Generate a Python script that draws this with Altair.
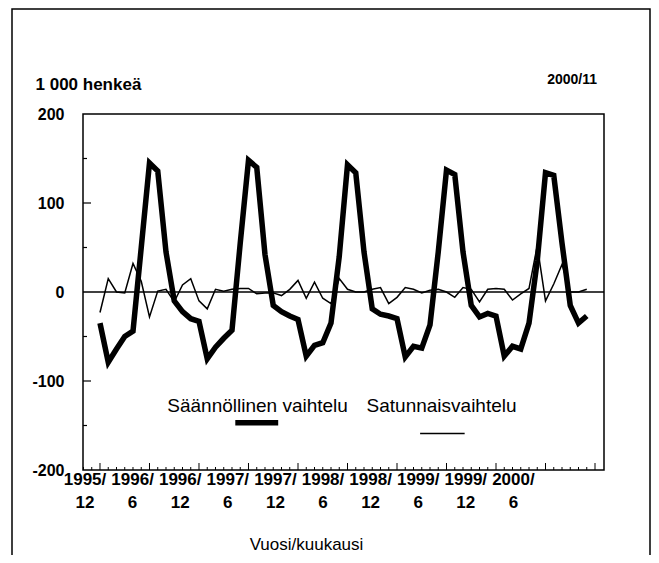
import altair as alt
import pandas as pd

# ---------------- data ----------------
start_month = "1995-12-01"
seasonal = [-35, -79, -64, -50, -44, 50, 145, 136, 45, -10, -22, -30,
            -33, -75, -62, -52, -43, 55, 148, 140, 42, -15, -22, -27,
            -31, -72, -60, -57, -35, 40, 143, 134, 45, -19, -25, -27,
            -30, -73, -61, -63, -37, 45, 137, 132, 45, -15, -28, -24,
            -27, -72, -61, -64, -35, 35, 134, 131, 55, -15, -35, -27]
irregular = [-23, 15, 0, -1, 32, 12, -28, 1, 3, -11, 8, 15,
             -10, -19, 3, 1, 3, 4, 4, -2, -1, -1, -4, 3,
             13, -7, 11, -7, -13, 15, 3, 0, 0, 3, 5, -13,
             -6, 5, 3, -1, 2, 3, 0, -6, 5, 3, -11, 3,
             4, 3, -9, -2, 4, 52, -10, 9, 31, 0, 0, 3]
label_years = ["1995/", "1996/", "1996/", "1997/", "1997/", "1998/",
               "1998/", "1999/", "1999/", "2000/"]
label_months = ["12", "6", "12", "6", "12", "6", "12", "6", "12", "6"]
y_tick_labels = [-200, -100, 0, 100, 200]
series_names = ["Säännöllinen vaihtelu", "Satunnaisvaihtelu"]
unit_text = "1 000 henkeä"
date_text = "2000/11"
x_title = "Vuosi/kuukausi"

# ---------------- layout ----------------
W, H = 521, 356
X_DOM = [-2.06, 61.09]
Y_DOM = [-200, 200]
PX_X = W / (X_DOM[1] - X_DOM[0])
PX_Y = H / (Y_DOM[1] - Y_DOM[0])
# the printed time labels are evenly spread a little tighter than the months
LABEL_FIRST_PX, LABEL_STEP_PX = 2.0, 47.6

SANS = "Liberation Sans, Arial, sans-serif"

months = pd.date_range(start_month, periods=len(seasonal), freq="MS").strftime("%Y/%m").tolist()
df = pd.DataFrame({"i": range(len(seasonal)), "kk": months,
                   "seasonal": seasonal, "irregular": irregular})

xs = alt.Scale(domain=X_DOM, nice=False, zero=False)
ys = alt.Scale(domain=Y_DOM, nice=False, zero=False)

x_axis = alt.Axis(labels=False, ticks=False, domain=False, grid=False,
                  title=x_title, titleFont=SANS, titleFontSize=17,
                  titleFontWeight="normal", titleColor="black",
                  titleX=223, titleY=74, titleAlign="center", titleBaseline="middle")
y_axis = alt.Axis(values=y_tick_labels, ticks=False, domain=False, grid=False,
                  labelExpr="'' + datum.value",
                  labelFont=SANS, labelFontSize=16, labelFontWeight="bold",
                  labelColor="black", labelPadding=19,
                  title=unit_text, titleAngle=0, titleX=-48, titleY=-30,
                  titleAlign="left", titleBaseline="middle", titleFont=SANS,
                  titleFontSize=17, titleFontWeight="bold", titleColor="black")


def X(field):
    return alt.X(field, type="quantitative", scale=xs, axis=x_axis)


def Y(field):
    return alt.Y(field, type="quantitative", scale=ys, axis=y_axis)


base = alt.Chart(df)

thick = base.mark_line(color="black", strokeWidth=5.5, strokeJoin="miter",
                       strokeCap="butt").encode(x=X("i"), y=Y("seasonal"))
thin = base.mark_line(color="black", strokeWidth=1.5).encode(x=X("i"), y=Y("irregular"))

zero = alt.Chart(pd.DataFrame({"v": [0]})).mark_rule(color="black", strokeWidth=1.3).encode(
    y=Y("v"))

# inward tick marks (bottom: monthly, every 6th longer; left: every 50)
xt = pd.DataFrame({"i": list(range(-2, 61))})
xt["y0"] = Y_DOM[0]
xt["y1"] = [Y_DOM[0] + (7 if v % 6 == 0 else 3) / PX_Y for v in xt["i"]]
xticks = alt.Chart(xt).mark_rule(color="black", strokeWidth=1).encode(
    x=X("i"), y=Y("y0"), y2="y1:Q")

yt = pd.DataFrame({"v": [-150, -100, -50, 50, 100, 150]})
yt["x0"] = X_DOM[0]
yt["x1"] = [X_DOM[0] + (8 if v % 100 == 0 else 4) / PX_X for v in yt["v"]]
yticks = alt.Chart(yt).mark_rule(color="black", strokeWidth=1.2).encode(
    y=Y("v"), x=X("x0"), x2="x1:Q")

# in-plot legend: names above short line samples
leg = pd.DataFrame({"name": series_names, "xc": [19.1, 41.4], "yc": [-128, -128]})
leg_text = alt.Chart(leg).mark_text(font=SANS, fontSize=19, color="black",
                                    baseline="middle", align="center").encode(
    x=X("xc"), y=Y("yc"), text="name:N")
samples = pd.DataFrame({"x0": [16.4, 38.8], "x1": [21.6, 44.2], "y": [-147, -159],
                        "w": [5.5, 1.5], "name": series_names})
leg_lines = alt.Chart(samples).mark_rule(color="black").encode(
    x=X("x0"), x2="x1:Q", y=Y("y"),
    strokeWidth=alt.StrokeWidth("w:Q", scale=None, legend=None))

# time labels along the bottom
lab = pd.DataFrame({"txt": [a + "\n" + b for a, b in zip(label_years, label_months)]})
lab["x"] = [X_DOM[0] + (LABEL_FIRST_PX + k * LABEL_STEP_PX) / PX_X for k in range(len(lab))]
lab["y0"] = Y_DOM[0]
labels = alt.Chart(lab).mark_text(font=SANS, fontSize=17, fontWeight="bold",
                                  color="black", lineBreak="\n", lineHeight=23,
                                  baseline="top", align="center", dy=2).encode(
    x=X("x"), y=Y("y0"), text="txt:N")

date_mark = alt.Chart(pd.DataFrame({"t": [date_text]})).mark_text(
    font=SANS, fontSize=14, fontWeight="bold", color="black",
    align="right", baseline="middle").encode(
    x=alt.value(514), y=alt.value(-34), text="t:N")

frame = alt.Chart(pd.DataFrame({"t": [0]})).mark_rect(
    fill="transparent", stroke="black", strokeWidth=1.5).encode(
    x=alt.value(-71), x2=alt.value(567), y=alt.value(-105), y2=alt.value(470))

chart = alt.layer(thick, frame, zero, xticks, yticks, thin, leg_text, leg_lines,
                  labels, date_mark).properties(
    width=W, height=H,
    background="white",
    autosize=alt.AutoSizeParams(type="none"),
    padding={"left": 75, "top": 106, "right": 47, "bottom": 85},
).configure_view(stroke="black", strokeWidth=1.5)

chart.save("out.html", embed_options={"renderer": "svg", "actions": False})
